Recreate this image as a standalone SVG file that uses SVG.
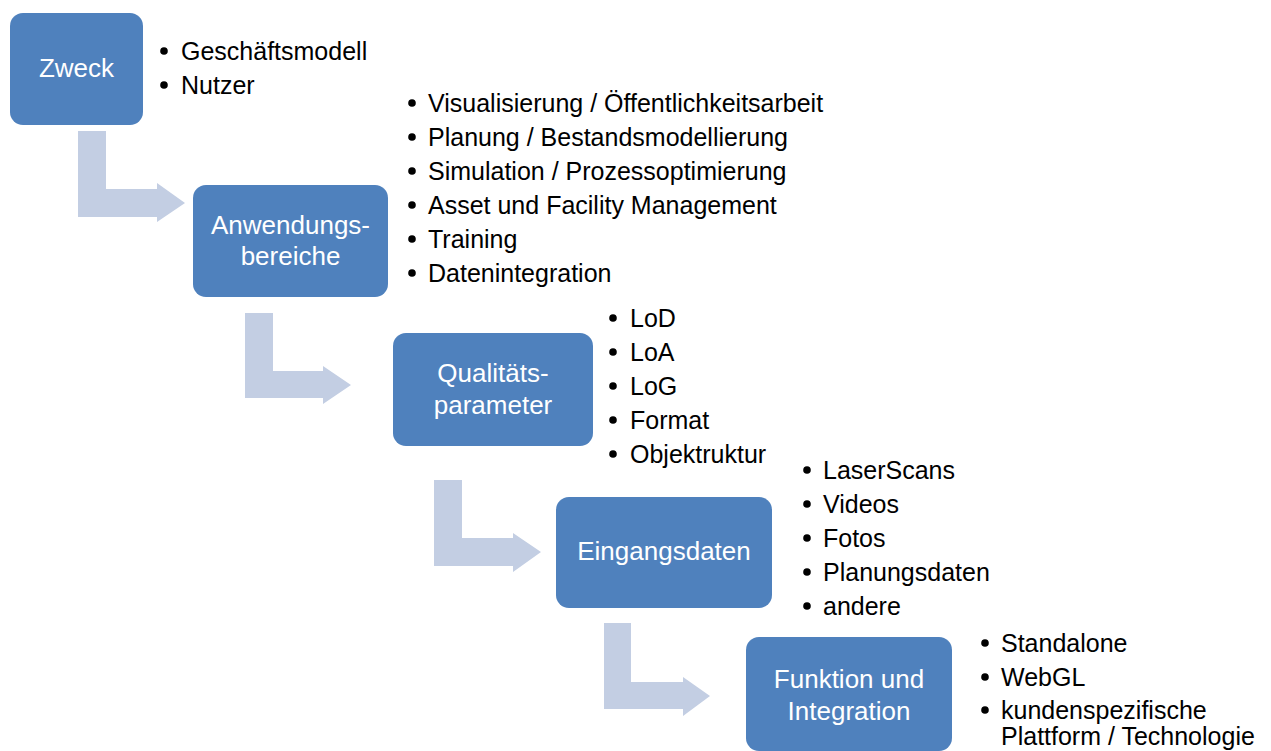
<svg xmlns="http://www.w3.org/2000/svg" width="1271" height="751" viewBox="0 0 1271 751">
<style>
.box{fill:#4F81BD;}
.bt{font-family:"Liberation Sans",Arial,sans-serif;font-size:26px;fill:#FFFFFF;text-anchor:middle;}
.li{font-family:"Liberation Sans",Arial,sans-serif;font-size:25px;fill:#000000;}
.dot{fill:#000000;}
.arr{fill:#C3CEE3;}
</style>
<rect width="1271" height="751" fill="#FFFFFF"/>
<g id="connectors">
<path class="arr" d="M78,131 H106 V189 H157 V183 L185,203 L157,222 V217 H78 Z"/>
<path class="arr" d="M245,313 H273 V371 H323 V366 L351,385 L323,404 V398 H245 Z"/>
<path class="arr" d="M434,480 H462 V538 H513 V533 L541,552 L513,572 V566 H434 Z"/>
<path class="arr" d="M604,623 H631 V682 H683 V677 L710,696 L683,716 V709 H604 Z"/>
</g>
<g id="node-zweck">
<rect class="box" x="10" y="13" width="133" height="112" rx="13"/>
<text class="bt" x="76.5" y="77">Zweck</text>
<circle class="dot" cx="164" cy="51" r="3.8"/>
<circle class="dot" cx="164" cy="85" r="3.8"/>
<text class="li" x="181" y="60">Geschäftsmodell</text>
<text class="li" x="181" y="94">Nutzer</text>
</g>
<g id="node-anwendungsbereiche">
<rect class="box" x="193" y="185" width="195" height="112" rx="13"/>
<text class="bt" x="290.5" y="234">Anwendungs-</text>
<text class="bt" x="290.5" y="265">bereiche</text>
<circle class="dot" cx="412" cy="103" r="3.8"/>
<circle class="dot" cx="412" cy="137" r="3.8"/>
<circle class="dot" cx="412" cy="171" r="3.8"/>
<circle class="dot" cx="412" cy="205" r="3.8"/>
<circle class="dot" cx="412" cy="239" r="3.8"/>
<circle class="dot" cx="412" cy="273" r="3.8"/>
<text class="li" x="428" y="112">Visualisierung / Öffentlichkeitsarbeit</text>
<text class="li" x="428" y="146">Planung / Bestandsmodellierung</text>
<text class="li" x="428" y="180">Simulation / Prozessoptimierung</text>
<text class="li" x="428" y="214">Asset und Facility Management</text>
<text class="li" x="428" y="248">Training</text>
<text class="li" x="428" y="282">Datenintegration</text>
</g>
<g id="node-qualitaetsparameter">
<rect class="box" x="393" y="333" width="200" height="113" rx="13"/>
<text class="bt" x="493" y="382">Qualitäts-</text>
<text class="bt" x="493" y="414">parameter</text>
<circle class="dot" cx="613" cy="318" r="3.8"/>
<circle class="dot" cx="613" cy="352" r="3.8"/>
<circle class="dot" cx="613" cy="386" r="3.8"/>
<circle class="dot" cx="613" cy="420" r="3.8"/>
<circle class="dot" cx="613" cy="454" r="3.8"/>
<text class="li" x="630" y="327">LoD</text>
<text class="li" x="630" y="361">LoA</text>
<text class="li" x="630" y="395">LoG</text>
<text class="li" x="630" y="429">Format</text>
<text class="li" x="630" y="463">Objektruktur</text>
</g>
<g id="node-eingangsdaten">
<rect class="box" x="556" y="497" width="216" height="111" rx="13"/>
<text class="bt" x="664" y="560">Eingangsdaten</text>
<circle class="dot" cx="807" cy="470" r="3.8"/>
<circle class="dot" cx="807" cy="504" r="3.8"/>
<circle class="dot" cx="807" cy="538" r="3.8"/>
<circle class="dot" cx="807" cy="572" r="3.8"/>
<circle class="dot" cx="807" cy="606" r="3.8"/>
<text class="li" x="823" y="479">LaserScans</text>
<text class="li" x="823" y="513">Videos</text>
<text class="li" x="823" y="547">Fotos</text>
<text class="li" x="823" y="581">Planungsdaten</text>
<text class="li" x="823" y="615">andere</text>
</g>
<g id="node-funktion">
<rect class="box" x="746" y="637" width="206" height="114" rx="13"/>
<text class="bt" x="849" y="688">Funktion und</text>
<text class="bt" x="849" y="720">Integration</text>
<circle class="dot" cx="985" cy="643" r="3.8"/>
<circle class="dot" cx="985" cy="677" r="3.8"/>
<circle class="dot" cx="985" cy="710" r="3.8"/>
<text class="li" x="1001" y="652">Standalone</text>
<text class="li" x="1001" y="686">WebGL</text>
<text class="li" x="1001" y="719">kundenspezifische</text>
<text class="li" x="1001" y="745">Plattform / Technologie</text>
</g>
</svg>
